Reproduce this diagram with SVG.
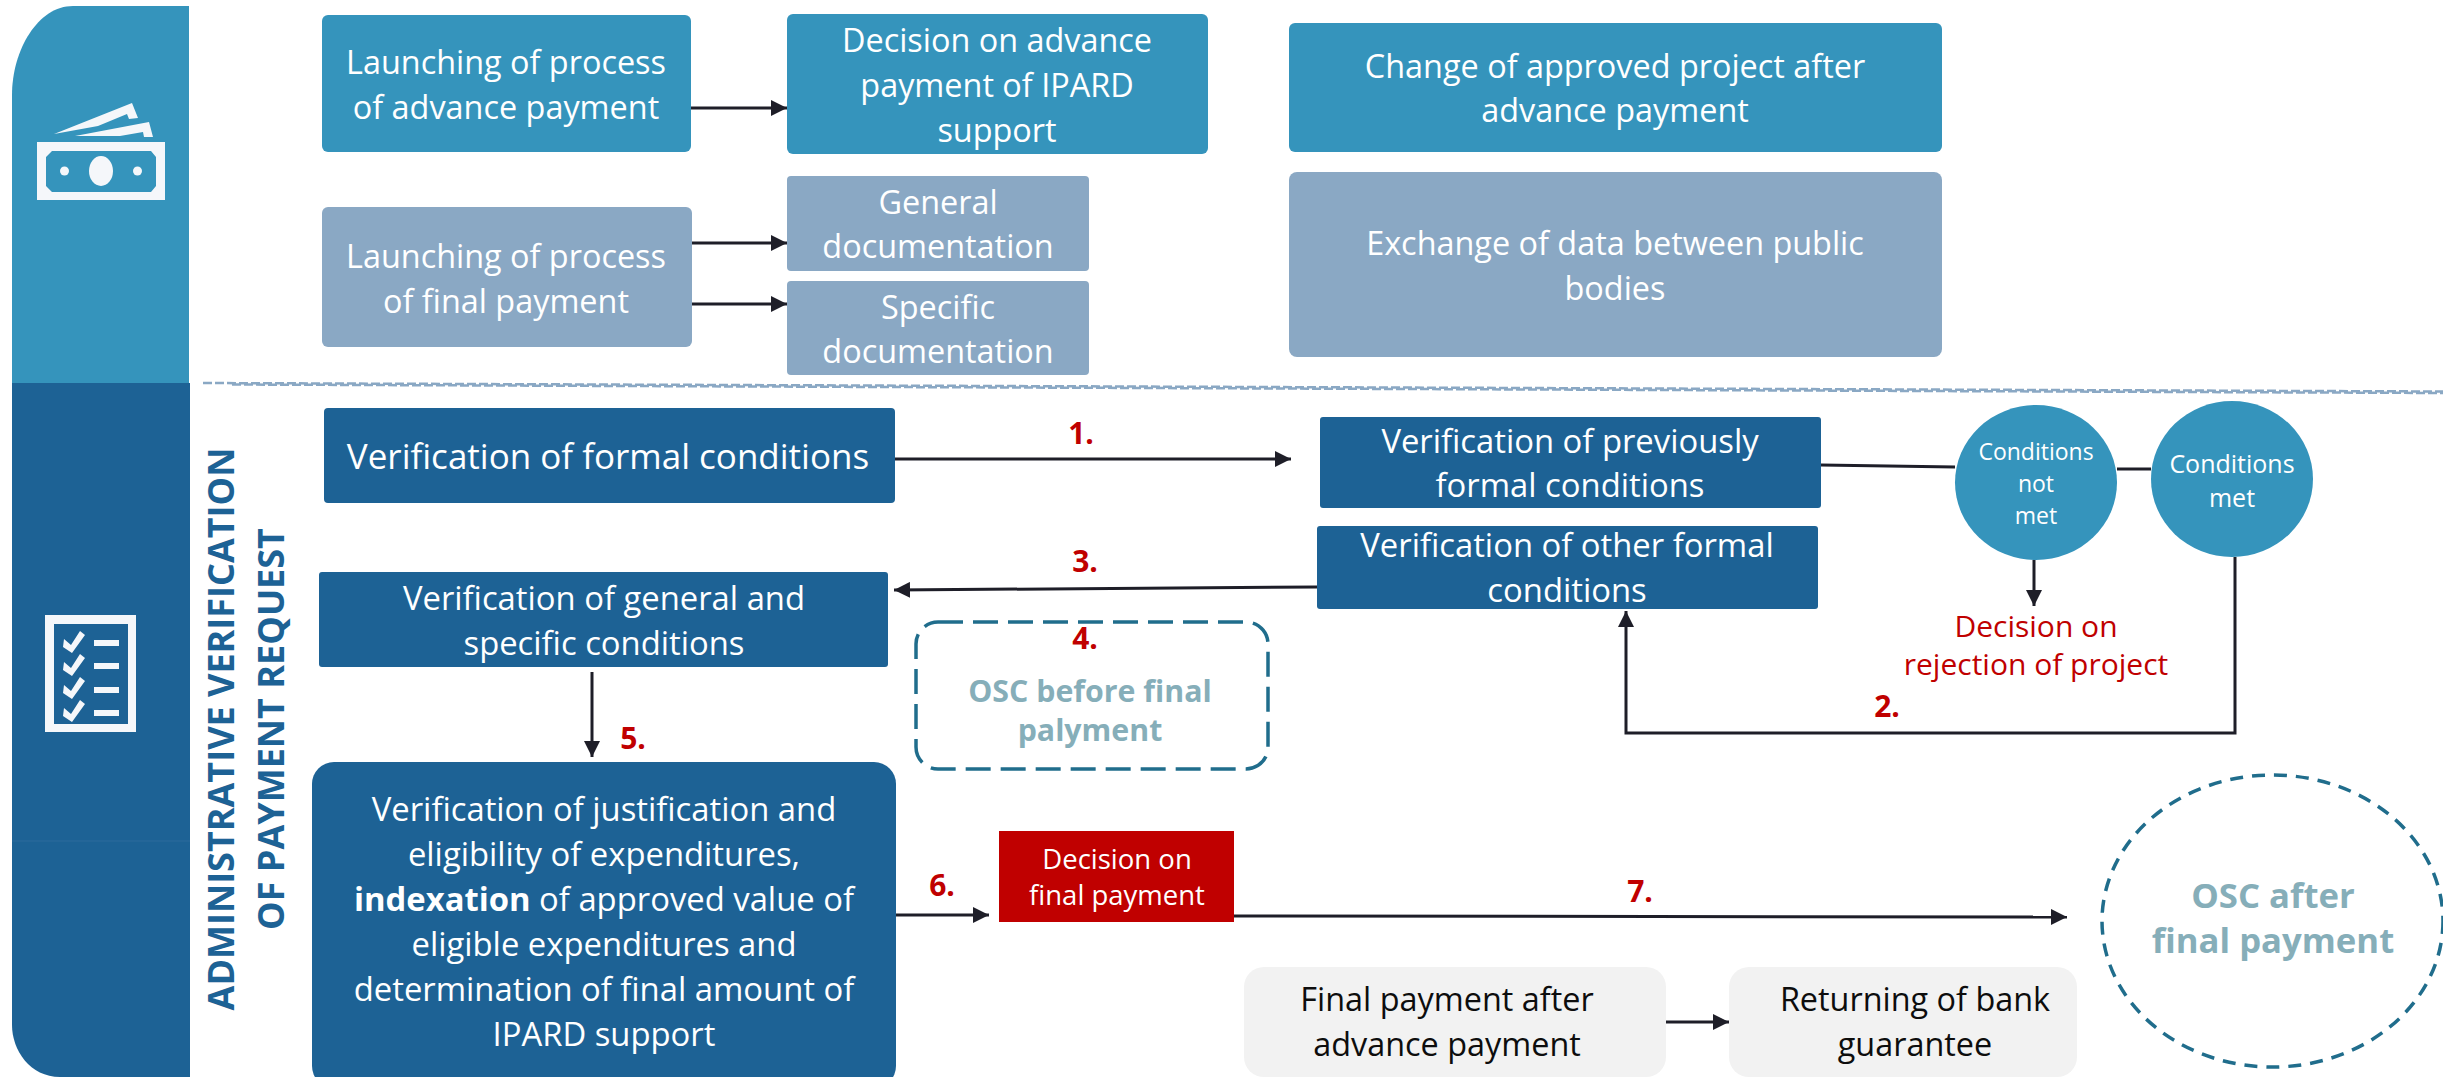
<svg xmlns="http://www.w3.org/2000/svg" width="2443" height="1077" viewBox="0 0 2443 1077">
<style>
text{font-family:"Open Sans","Noto Sans","Liberation Sans",sans-serif;text-anchor:middle}
.w{fill:#fff;font-size:32.400px}
.v{font-size:32.800px}
.k{fill:#0d0d0d;font-size:32.400px}
.o{fill:#86aeb9;font-weight:700}
.t{fill:#1d6295;font-size:36px;font-weight:700}
.r{fill:#c00000;font-size:30px}
.n{fill:#c00000;font-size:30px;font-weight:700}
.c{fill:none;stroke:#1e1e28;stroke-width:3}
.a{marker-end:url(#arr)}
.b1{fill:#3594bc}.b2{fill:#8aa8c4}.b3{fill:#1d6295}.g{fill:#f2f2f2}
.ic{fill:#f5f7fa}
.d{fill:#fff;stroke:#206d8c;stroke-width:3.500}
.dv{fill:none;stroke:#8aa8c4;stroke-width:2.500;stroke-dasharray:9 3}
</style>
<defs><marker id="arr" markerUnits="userSpaceOnUse" markerWidth="16" markerHeight="16" refX="16" refY="8" orient="auto"><path d="M0 0L16 8L0 16Z" fill="#1e1e28"/></marker></defs>
<g id="band-top"><path class="b1" d="M189 6H73C38 6 12 50 12 95V383H189Z"/>
<g class="ic"><path fill-rule="evenodd" d="M37 142H165V200H37ZM52 151L46 157V186L52 192H151L156 186V157L151 151Z"/><ellipse cx="101" cy="171" rx="12" ry="15"/><circle cx="64.500" cy="171" r="4.500"/><circle cx="137.500" cy="171" r="4.500"/><path d="M54 134L132 103L138 118L129 119L127 114L98 126Z"/><path d="M75 136L149 122L153 137L144 137L143 132L120 136Z"/></g></g>
<g id="band-bottom"><path class="b3" d="M12 383H190V1077H60C30 1077 12 1050 12 1025Z"/><path d="M12 841H190" stroke="#2c6a9c" stroke-width="1"/>
<g class="ic"><path fill-rule="evenodd" d="M45 615H136V732H45ZM54 624V724H128V624Z"/><path d="M94 640H119V646H94ZM94 663H119V669H94ZM94 687H119V693H94ZM94 710H119V716H94Z"/><path d="M64 639L71 645L80 631L85 635L72 653L63 647Z"/><path d="M64 662L71 668L80 654L85 658L72 676L63 670Z"/><path d="M64 685L71 691L80 677L85 681L72 699L63 693Z"/><path d="M64 708L71 714L80 700L85 704L72 722L63 716Z"/></g>
<text class="t" transform="translate(234 729) rotate(-90)">ADMINISTRATIVE VERIFICATION</text>
<text class="t" transform="translate(284 729) rotate(-90)">OF PAYMENT REQUEST</text></g>
<g id="divider"><path class="dv" d="M203 383L2443 391.500"/><path class="dv" d="M232 384.500L2443 393"/></g>
<g id="connectors">
<path class="c a" d="M691 108H787"/><path class="c a" d="M692 243H787"/><path class="c a" d="M692 304H787"/>
<path class="c a" d="M895 459H1291"/><path class="c" d="M1821 465L1955 467M2117 469H2151"/>
<path class="c a" d="M1317 587L894 590"/><path class="c a" d="M2034 560V606"/>
<path class="c a" d="M2235 557V733H1626V611"/><path class="c a" d="M592 672V757"/>
<path class="c a" d="M895 915H989"/><path class="c a" d="M1234 916L2067 917"/><path class="c a" d="M1666 1022H1729"/>
</g>
<g id="n1"><rect class="b1" x="322" y="15" width="369" height="137" rx="6"/><text class="w" x="506" y="74">Launching of process</text><text class="w" x="506" y="119">of advance payment</text></g>
<g id="n2"><rect class="b1" x="787" y="14" width="421" height="140" rx="6"/><text class="w" x="997" y="52">Decision on advance</text><text class="w" x="997" y="97">payment of IPARD</text><text class="w" x="997" y="142">support</text></g>
<g id="n3"><rect class="b2" x="322" y="207" width="370" height="140" rx="6"/><text class="w" x="506" y="268">Launching of process</text><text class="w" x="506" y="313">of final payment</text></g>
<g id="n4"><rect class="b2" x="787" y="176" width="302" height="95" rx="4"/><text class="w" x="938" y="214">General</text><text class="w" x="938" y="258">documentation</text></g>
<g id="n5"><rect class="b2" x="787" y="281" width="302" height="94" rx="4"/><text class="w" x="938" y="319">Specific</text><text class="w" x="938" y="363">documentation</text></g>
<g id="n6"><rect class="b1" x="1289" y="23" width="653" height="129" rx="6"/><text class="w" x="1615" y="78">Change of approved project after</text><text class="w" x="1615" y="122">advance payment</text></g>
<g id="n7"><rect class="b2" x="1289" y="172" width="653" height="185" rx="8"/><text class="w" x="1615" y="255">Exchange of data between public</text><text class="w" x="1615" y="300">bodies</text></g>
<g id="n8"><rect class="b3" x="324" y="408" width="571" height="95" rx="4"/><text class="w" x="608" y="469" style="font-size:35px">Verification of formal conditions</text></g>
<g id="n9"><rect class="b3" x="1320" y="417" width="501" height="91" rx="3"/><text class="w v" x="1570" y="453">Verification of previously</text><text class="w v" x="1570" y="497">formal conditions</text></g>
<g id="n10"><rect class="b3" x="1317" y="526" width="501" height="83" rx="3"/><text class="w v" x="1567" y="557">Verification of other formal</text><text class="w v" x="1567" y="602">conditions</text></g>
<g id="n11"><rect class="b3" x="319" y="572" width="569" height="95" rx="3"/><text class="w v" x="604" y="610">Verification of general and</text><text class="w v" x="604" y="655">specific conditions</text></g>
<g id="n12"><rect class="d" x="916" y="622" width="352" height="147" rx="22" stroke-dasharray="25 10"/><text class="o" x="1090" y="702" style="font-size:30.300px">OSC before final</text><text class="o" x="1090" y="741" style="font-size:30.300px">palyment</text></g>
<g id="n13"><rect class="b3" x="312" y="762" width="584" height="326" rx="22"/><text class="w v" x="604" y="821">Verification of justification and</text><text class="w v" x="604" y="866">eligibility of expenditures,</text><text class="w v" x="604" y="911"><tspan font-weight="700">indexation</tspan> of approved value of</text><text class="w v" x="604" y="956">eligible expenditures and</text><text class="w v" x="604" y="1001">determination of final amount of</text><text class="w v" x="604" y="1046">IPARD support</text></g>
<g id="n14"><rect x="999" y="831" width="235" height="91" fill="#c00000"/><text class="w" x="1117" y="869" style="font-size:27.500px">Decision on</text><text class="w" x="1117" y="905" style="font-size:27.500px">final payment</text></g>
<g id="n15"><rect class="g" x="1244" y="967" width="422" height="110" rx="20"/><text class="k" x="1447" y="1011">Final payment after</text><text class="k" x="1447" y="1056">advance payment</text></g>
<g id="n16"><rect class="g" x="1729" y="967" width="348" height="110" rx="20"/><text class="k" x="1915" y="1011">Returning of bank</text><text class="k" x="1915" y="1056">guarantee</text></g>
<g id="n17"><ellipse class="d" cx="2272.500" cy="921" rx="170.500" ry="146" stroke-width="3" stroke-dasharray="13 9"/><text class="o" x="2273" y="908" style="font-size:34.700px">OSC after</text><text class="o" x="2273" y="953" style="font-size:34.700px">final payment</text></g>
<g id="n18"><ellipse class="b1" cx="2036" cy="482.500" rx="81" ry="77.500"/><text class="w" x="2036" y="460" style="font-size:23px">Conditions</text><text class="w" x="2036" y="492" style="font-size:23px">not</text><text class="w" x="2036" y="524" style="font-size:23px">met</text></g>
<g id="n19"><ellipse class="b1" cx="2232" cy="479" rx="81" ry="78"/><text class="w" x="2232" y="473" style="font-size:25px">Conditions</text><text class="w" x="2232" y="507" style="font-size:25px">met</text></g>
<g id="n20"><text class="r" x="2036" y="637">Decision on</text><text class="r" x="2036" y="675">rejection of project</text></g>
<g id="labels"><text class="n" x="1081" y="444">1.</text><text class="n" x="1887" y="717">2.</text><text class="n" x="1085" y="572">3.</text><text class="n" x="1085" y="649">4.</text><text class="n" x="633" y="749">5.</text><text class="n" x="942" y="896">6.</text><text class="n" x="1640" y="902">7.</text></g>
</svg>
